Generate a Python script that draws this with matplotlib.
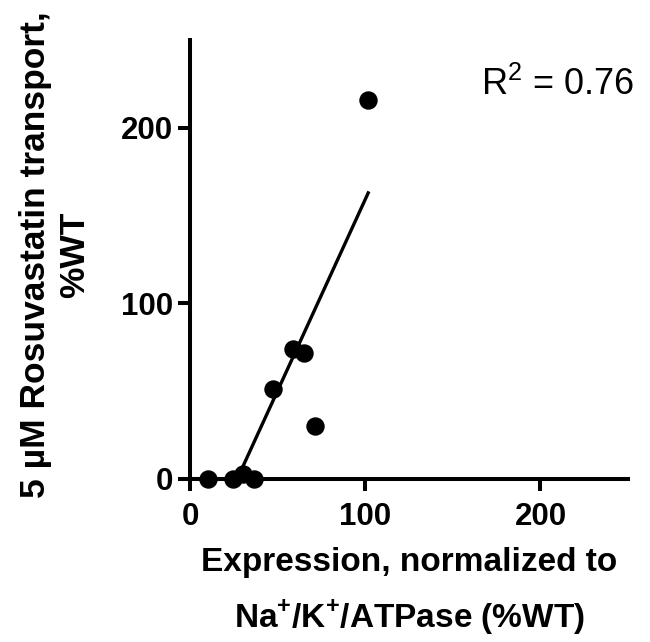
import numpy as np
import matplotlib
matplotlib.use("Agg")
import matplotlib.pyplot as plt

plt.rcParams["font.family"] = ["Liberation Sans", "DejaVu Sans"]
plt.rcParams["mathtext.fontset"] = "custom"
plt.rcParams["mathtext.rm"] = "Liberation Sans"
plt.rcParams["mathtext.bf"] = "Liberation Sans:bold"

# Expression (%WT) vs rosuvastatin transport (%WT)
expression = [10.5, 24.8, 30.5, 36.6, 47.2, 59.0, 65.1, 71.4, 101.7]
transport = [0.0, 0.0, 3.0, 0.0, 51.0, 74.0, 71.5, 30.0, 216.0]
x_ticks = [0, 100, 200]
y_ticks = [0, 100, 200]
r2_label = "R$^{2}$ = 0.76"

x = np.array(expression)
y = np.array(transport)
slope, intercept = np.polyfit(x, y, 1)
x_start = max(x.min(), -intercept / slope)  # line clipped at y = 0
xfit = np.array([x_start, x.max()])
yfit = slope * xfit + intercept

fig = plt.figure(figsize=(6.5, 6.42), dpi=100)
ax = fig.add_axes([0.2923, 0.2539, 0.674, 0.6838])

ax.plot(xfit, yfit, color="black", lw=2.4, zorder=2)
ax.scatter(x, y, s=150, color="black", zorder=3, clip_on=False)

ax.set_xlim(0, 250)
ax.set_ylim(0, 250)
ax.set_xticks(x_ticks)
ax.set_yticks(y_ticks)

for side in ["top", "right"]:
    ax.spines[side].set_visible(False)
for side in ["left", "bottom"]:
    ax.spines[side].set_linewidth(2.9)
ax.tick_params(width=2.9, length=8.5, pad=4, labelsize=22.5, direction="out")
ax.tick_params(axis="x", pad=8)
for lbl in ax.get_xticklabels() + ax.get_yticklabels():
    lbl.set_fontweight("bold")

ax.set_xlabel("Expression, normalized to\nNa$^{\\mathbf{+}}$/K$^{\\mathbf{+}}$/ATPase (%WT)",
              fontsize=24, fontweight="bold", linespacing=1.7)
ax.xaxis.set_label_coords(0.5, -0.34, transform=ax.transAxes)
ax.xaxis.label.set_va("baseline")

ax.set_ylabel("5 µM Rosuvastatin transport,\n%WT", fontsize=25.5, fontweight="bold",
              linespacing=1.26)
ax.yaxis.set_label_coords(-0.256, 0.51, transform=ax.transAxes)
ax.yaxis.label.set_va("baseline")

ax.text(1.015, 0.898, r2_label, transform=ax.transAxes, ha="right", va="center",
        fontsize=26)

fig.savefig("out.png", dpi=100)
